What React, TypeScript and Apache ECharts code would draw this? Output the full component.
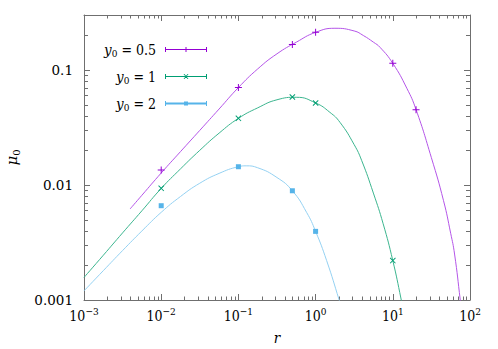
import React, { useEffect, useRef } from "react";
import * as echarts from "echarts";

const FONT = "DejaVu Serif Condensed, DejaVu Serif";
const FONT_SAFE = "DejaVu Serif";
const AXIS_COLOR = "#6f6f6f";

const seriesNames = ["y0 = 0.5", "y0 = 1", "y0 = 2"];
const legendValues = ["0.5", "1", "2"];
const markerColors = ["#9400d3", "#009e73", "#56b4e9"];
const lineColors = ["#b455e8", "#3cb58f", "#94d1f2"];

// data points
const purplePointsX = [0.01, 0.1, 0.5, 1, 10, 20];
const purplePointsY = [0.0135, 0.0702, 0.166, 0.212, 0.114, 0.0451];
const greenPointsX = [0.01, 0.1, 0.5, 1, 10];
const greenPointsY = [0.00934, 0.0379, 0.0582, 0.0516, 0.0022];
const bluePointsX = [0.01, 0.1, 0.5, 1];
const bluePointsY = [0.0066, 0.0144, 0.0089, 0.00395];

// fitted curves
const purpleCurveX = [0.00395, 0.00562, 0.01, 0.0178, 0.0316, 0.0562, 0.1, 0.178, 0.316, 0.562, 1, 1.78, 3.16, 4.15, 5.62, 6.84, 10, 15.2, 20, 31.6, 45.4, 56.2, 63.1, 74.8, 79.4];
const purpleCurveY = [0.00618, 0.00813, 0.0127, 0.0195, 0.0298, 0.0457, 0.0702, 0.102, 0.138, 0.174, 0.212, 0.23, 0.218, 0.199, 0.174, 0.157, 0.114, 0.0692, 0.0452, 0.01726, 0.0073, 0.0038, 0.00251, 0.001, 0.000708];
const greenCurveX = [0.001, 0.00178, 0.00316, 0.00562, 0.01, 0.0178, 0.0316, 0.0562, 0.1, 0.178, 0.316, 0.562, 1, 1.53, 2.07, 3.16, 3.96, 5.6, 7.5, 10, 12.8, 14.1];
const greenCurveY = [0.00157, 0.00245, 0.00383, 0.00596, 0.00933, 0.0138, 0.02, 0.0282, 0.0379, 0.0468, 0.055, 0.0578, 0.0516, 0.0428, 0.035, 0.0224, 0.01625, 0.0085, 0.0046, 0.0022, 0.00102, 0.00072];
const blueCurveX = [0.001, 0.00178, 0.00316, 0.00562, 0.01, 0.0178, 0.0316, 0.0562, 0.1, 0.126, 0.178, 0.316, 0.5, 0.764, 1, 1.39, 2.02, 2.24];
const blueCurveY = [0.0012, 0.0018, 0.00269, 0.00398, 0.00578, 0.00794, 0.01035, 0.0126, 0.0144, 0.01466, 0.0141, 0.0116, 0.0089, 0.00578, 0.00395, 0.0022, 0.001, 0.00079];

const yTickLabels = ["0.001", "0.01", "0.1"];
const xMin = 0.001, xMax = 100, yMin = 0.001, yMax = 0.3;

const xMinorTicks: number[] = [];
for (let e = -3; e < 2; e++) for (let m = 2; m <= 9; m++) xMinorTicks.push(m * Math.pow(10, e));
const yMinorTicks: number[] = [];
for (let e = -3; e < 0; e++) for (let m = 2; m <= 9; m++) { const v = m * Math.pow(10, e); if (v < yMax * 0.999) yMinorTicks.push(v); }

const legendIcons = [
  "path://M0,2h42v1h-42zM0,0h1v5h-1zM41,0h1v5h-1zM20.5,0h1v5h-1z",
  "path://M0,2h42v1h-42zM0,0h1v5h-1zM41,0h1v5h-1zM18.5,0L19.5,0L23.5,5L22.5,5zM22.5,0L23.5,0L19.5,5L18.5,5z",
  "path://M0,1.5h42v2h-42zM0,0h1v5h-1zM41,0h1v5h-1zM19,0.5h4v4h-4z",
];
const markerSymbols = [
  "path://M3,0h1v7h-1zM0,3h7v1h-7z",
  "path://M0,0.8L0.8,0L7,6.2L6.2,7zM6.2,0L7,0.8L0.8,7L0,6.2z",
  "rect",
];
const markerSizes = [7, 6, 5];

const zip = (xs: number[], ys: number[]) => xs.map((x, i) => [x, ys[i]]);

export default function App() {
  const ref = useRef<HTMLDivElement>(null);
  useEffect(() => {
    if (!ref.current) return;
    const chart = echarts.init(ref.current, undefined, { renderer: "svg" });
    const pointSets = [zip(purplePointsX, purplePointsY), zip(greenPointsX, greenPointsY), zip(bluePointsX, bluePointsY)];
    const curveSets = [zip(purpleCurveX, purpleCurveY), zip(greenCurveX, greenCurveY), zip(blueCurveX, blueCurveY)];

    const baseX = {
      type: "log", logBase: 10, min: xMin, max: xMax,
      axisLine: { show: true, lineStyle: { color: AXIS_COLOR, width: 1 } },
      axisTick: { show: true, inside: true, length: 6, lineStyle: { color: AXIS_COLOR } },
      splitLine: { show: false }, minorTick: { show: false },
    };
    const baseY = {
      type: "log", logBase: 10, min: yMin, max: yMax,
      axisLine: { show: true, lineStyle: { color: AXIS_COLOR, width: 1 } },
      axisTick: { show: true, inside: true, length: 6, lineStyle: { color: AXIS_COLOR } },
      splitLine: { show: false }, minorTick: { show: false },
    };

    const option: any = {
      animation: false,
      textStyle: { fontFamily: FONT_SAFE },
      grid: { left: 84, right: 28, top: 15, bottom: 49, containLabel: false, outerBoundsMode: "none" },
      legend: {
        orient: "vertical", right: 291, top: 42, align: "right", padding: 0,
        itemWidth: 42, itemHeight: 5, itemGap: 10.5, selectedMode: false,
        data: seriesNames.map((n, i) => ({ name: n, icon: legendIcons[i] })),
        formatter: (name: string) => `{i|y}{sub|0}{n| = ${legendValues[seriesNames.indexOf(name)]}}`,
        textStyle: {
          fontFamily: FONT,
          padding: [0, 4, 0, 0],
          rich: {
            i: { fontFamily: FONT, fontStyle: "italic", fontSize: 15, lineHeight: 18, color: "#000" },
            sub: { fontFamily: FONT, fontSize: 10, lineHeight: 10, verticalAlign: "bottom", color: "#000" },
            n: { fontFamily: FONT, fontSize: 14, lineHeight: 18, color: "#000" },
          },
        },
      },
      xAxis: [
        {
          ...baseX, position: "bottom",
          name: "r", nameLocation: "middle", nameGap: 30,
          nameTextStyle: { fontFamily: FONT, fontStyle: "italic", fontSize: 15, color: "#000" },
          axisLabel: {
            margin: 6, fontFamily: FONT,
            formatter: (v: number) => {
              const e = Math.round(Math.log10(v));
              if (Math.abs(Math.log10(v) - e) > 1e-6) return "";
              return `{b|10}{s|${e < 0 ? "\u2212" + -e : e}}`;
            },
            rich: {
              b: { fontFamily: FONT, fontSize: 14, lineHeight: 20, color: "#000" },
              s: { fontFamily: FONT, fontSize: 10, lineHeight: 11, verticalAlign: "top", color: "#000" },
            },
          },
        },
        { ...baseX, position: "top", axisLabel: { show: false } },
      ],
      yAxis: [
        {
          ...baseY, position: "left",
          name: "{m|\u03bc}{s|0}", nameLocation: "middle", nameGap: 63, nameRotate: 90,
          nameTextStyle: {
            fontFamily: FONT_SAFE,
            rich: {
              m: { fontFamily: FONT_SAFE, fontStyle: "italic", fontSize: 15, lineHeight: 18, color: "#000" },
              s: { fontFamily: FONT_SAFE, fontSize: 10, lineHeight: 10, verticalAlign: "bottom", color: "#000" },
            },
          },
          axisLabel: {
            margin: 11, fontFamily: FONT_SAFE, fontSize: 13.5, color: "#000",
            formatter: (v: number) => {
              const e = Math.round(Math.log10(v));
              if (Math.abs(Math.log10(v) - e) > 1e-6) return "";
              return yTickLabels[e + 3] ?? "";
            },
          },
        },
        { ...baseY, position: "right", axisLabel: { show: false } },
      ],
      series: [
        ...curveSets.map((d, i) => ({
          type: "line", name: "curve" + i, data: d, smooth: 0.5, showSymbol: false, silent: true,
          lineStyle: { color: lineColors[i], width: 1 }, itemStyle: { color: lineColors[i] },
          xAxisIndex: 0, yAxisIndex: 0, clip: true, z: 2,
        })),
        ...pointSets.map((d, i) => ({
          type: "scatter", name: seriesNames[i], data: d, symbol: markerSymbols[i], symbolSize: markerSizes[i],
          itemStyle: { color: markerColors[i], opacity: 1 }, xAxisIndex: 0, yAxisIndex: 0, z: 3,
        })),
        {
          type: "custom", name: "xminor", silent: true, xAxisIndex: 0, yAxisIndex: 0,
          data: xMinorTicks.map((v) => [v, yMin]),
          renderItem: (params: any, api: any) => {
            const p = api.coord([api.value(0), yMin]);
            const cs = params.coordSys;
            const x = Math.round(p[0]) + 0.5;
            const st = { stroke: AXIS_COLOR, lineWidth: 1 };
            return {
              type: "group",
              children: [
                { type: "line", shape: { x1: x, y1: cs.y + cs.height, x2: x, y2: cs.y + cs.height - 3.5 }, style: st },
                { type: "line", shape: { x1: x, y1: cs.y, x2: x, y2: cs.y + 3.5 }, style: st },
              ],
            };
          },
        },
        {
          type: "custom", name: "yminor", silent: true, xAxisIndex: 0, yAxisIndex: 0,
          data: yMinorTicks.map((v) => [xMin, v]),
          renderItem: (params: any, api: any) => {
            const p = api.coord([xMin, api.value(1)]);
            const cs = params.coordSys;
            const y = Math.round(p[1]) + 0.5;
            const st = { stroke: AXIS_COLOR, lineWidth: 1 };
            return {
              type: "group",
              children: [
                { type: "line", shape: { x1: cs.x, y1: y, x2: cs.x + 4, y2: y }, style: st },
                { type: "line", shape: { x1: cs.x + cs.width, y1: y, x2: cs.x + cs.width - 4, y2: y }, style: st },
              ],
            };
          },
        },
      ],
    };
    chart.setOption(option);
    return () => chart.dispose();
  }, []);
  return <div ref={ref} style={{ width: 498, height: 349, position: "absolute", left: 0, top: 0 }} />;
}
